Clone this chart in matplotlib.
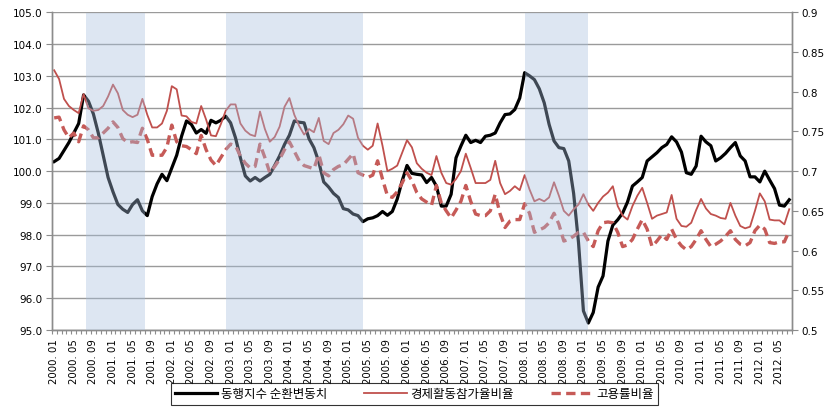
import matplotlib
matplotlib.use("Agg")
import matplotlib.pyplot as plt
import numpy as np
from matplotlib.lines import Line2D
from matplotlib.font_manager import FontProperties

plt.rcParams['font.family'] = ['DejaVu Sans', 'Noto Sans CJK KR']

# monthly categories 2000.01 - 2012.07
months = [f"{y}. {m:02d}" for y in range(2000, 2013) for m in range(1, 13)][:151]

# 동행지수 순환변동치 (left axis)
coincident = [
    100.3, 100.4, 100.65, 100.9, 101.2, 101.5, 102.4, 102.2, 101.8, 101.2,
    100.5, 99.8, 99.35, 98.95, 98.8, 98.7, 98.95, 99.1, 98.75, 98.6,
    99.2, 99.6, 99.9, 99.7, 100.1, 100.5, 101.1, 101.58, 101.47, 101.2,
    101.31, 101.19, 101.6, 101.52, 101.6, 101.73, 101.52, 101.05, 100.42, 99.85,
    99.69, 99.8, 99.69, 99.8, 99.9, 100.18, 100.48, 100.84, 101.13, 101.58,
    101.54, 101.52, 101.02, 100.74, 100.29, 99.66, 99.5, 99.3, 99.17, 98.82,
    98.78, 98.65, 98.6, 98.41, 98.5, 98.53, 98.6, 98.73, 98.61, 98.73,
    99.12, 99.69, 100.18, 99.93, 99.9, 99.88, 99.64, 99.8, 99.53, 98.9,
    98.9, 99.27, 100.42, 100.79, 101.13, 100.9, 100.97, 100.9, 101.1, 101.13,
    101.2, 101.52, 101.78, 101.8, 101.94, 102.3, 103.1, 103.0, 102.88, 102.59,
    102.15, 101.47, 100.95, 100.74, 100.71, 100.32, 99.3, 97.75, 95.6, 95.22,
    95.55, 96.35, 96.7, 97.8, 98.3, 98.47, 98.68, 99.03, 99.53, 99.66,
    99.8, 100.32, 100.45, 100.58, 100.74, 100.84, 101.08, 100.92, 100.6, 99.95,
    99.9, 100.16, 101.1, 100.92, 100.8, 100.32, 100.42, 100.56, 100.74, 100.9,
    100.48, 100.32, 99.82, 99.82, 99.66, 100.0, 99.72, 99.45, 98.93, 98.9,
    99.1,
]

# 경제활동참가율비율 (right axis)
participation = [
    0.827, 0.816, 0.791, 0.782, 0.777, 0.773, 0.797, 0.779, 0.776, 0.777,
    0.782, 0.794, 0.809, 0.798, 0.777, 0.771, 0.768, 0.771, 0.791, 0.771,
    0.755, 0.755, 0.76, 0.776, 0.807, 0.803, 0.77, 0.769, 0.762, 0.76,
    0.782, 0.765, 0.745, 0.744, 0.759, 0.776, 0.784, 0.784, 0.76, 0.751,
    0.746, 0.744, 0.775, 0.753, 0.737, 0.743, 0.756, 0.781, 0.792, 0.771,
    0.757, 0.746, 0.753, 0.749, 0.767, 0.738, 0.734, 0.748, 0.752, 0.759,
    0.77, 0.766, 0.742, 0.732, 0.727, 0.732, 0.76, 0.732, 0.7, 0.703,
    0.707, 0.723, 0.739, 0.73, 0.71, 0.703, 0.698, 0.695, 0.719, 0.698,
    0.685, 0.683, 0.69, 0.7, 0.722, 0.704, 0.685, 0.685, 0.685, 0.689,
    0.713, 0.685, 0.671, 0.675, 0.681, 0.676, 0.695, 0.677, 0.662, 0.665,
    0.662, 0.667, 0.686, 0.669, 0.65, 0.644, 0.652, 0.658, 0.671, 0.658,
    0.65, 0.66, 0.668, 0.673, 0.681, 0.656, 0.644, 0.639, 0.656, 0.669,
    0.679, 0.66, 0.64, 0.644, 0.646, 0.648, 0.67, 0.64, 0.631, 0.63,
    0.635, 0.651, 0.665, 0.653, 0.646, 0.644, 0.641, 0.64, 0.66, 0.644,
    0.631, 0.628, 0.63, 0.65, 0.672, 0.662, 0.639, 0.638, 0.638, 0.633,
    0.652,
]

# 고용률비율 (right axis)
employment = [
    0.767, 0.768, 0.752, 0.742, 0.748, 0.737, 0.757, 0.752, 0.742, 0.742,
    0.748, 0.754, 0.762, 0.755, 0.741, 0.736, 0.737, 0.736, 0.754, 0.74,
    0.72, 0.72, 0.72, 0.73, 0.758, 0.737, 0.732, 0.731, 0.727, 0.722,
    0.745, 0.727, 0.714, 0.707, 0.717, 0.727, 0.734, 0.732, 0.719, 0.71,
    0.704, 0.706, 0.734, 0.717, 0.698, 0.706, 0.715, 0.727, 0.737, 0.725,
    0.713, 0.707, 0.705, 0.703, 0.721, 0.698, 0.694, 0.702, 0.706, 0.708,
    0.715, 0.722, 0.698, 0.695, 0.692, 0.695, 0.713, 0.69, 0.669, 0.667,
    0.674, 0.685, 0.698, 0.688, 0.673, 0.665, 0.661, 0.657, 0.682, 0.66,
    0.65, 0.641, 0.651, 0.662, 0.682, 0.662, 0.646, 0.644, 0.644, 0.65,
    0.671, 0.646, 0.629, 0.637, 0.639, 0.639, 0.659, 0.647, 0.623, 0.626,
    0.629, 0.635, 0.647, 0.633, 0.612, 0.614, 0.618, 0.623, 0.623, 0.612,
    0.605, 0.625, 0.635, 0.636, 0.635, 0.623, 0.605, 0.607, 0.614, 0.627,
    0.639, 0.627, 0.605, 0.612, 0.62, 0.614, 0.627, 0.614, 0.606, 0.601,
    0.605, 0.614, 0.625, 0.614, 0.605, 0.608, 0.612, 0.618, 0.625, 0.614,
    0.608, 0.606, 0.61, 0.625, 0.632, 0.627, 0.61, 0.609, 0.611, 0.611,
    0.625,
]

# contraction periods (peak -> trough)
bands = [("2000. 08", "2001. 07"), ("2002. 12", "2005. 04"), ("2008. 01", "2009. 02")]

labels = ["동행지수 순환변동치", "경제활동참가율비율", "고용률비율"]

RED = "#C0504D"
RED_DASH = "#C65A57"
GRID = "#9a9a9a"
SPINE = "#8c8c8c"

fig = plt.figure(figsize=(8.29, 4.14), dpi=100)
ax = fig.add_axes([0.0624, 0.2005, 0.8926, 0.7674])
ax2 = ax.twinx()

x = np.arange(len(months))
ax.plot(x, coincident, color="black", lw=2.3, zorder=3, solid_joinstyle="round")
ax2.plot(x, participation, color=RED, lw=1.3, zorder=2)
ax2.plot(x, employment, color=RED_DASH, lw=2.4, dashes=(2.8, 1.6), zorder=2)

# shaded bands overlaid (semi transparent)
for k, (s, e) in enumerate(bands):
    i0, i1 = months.index(s), months.index(e)
    if k == 0:
        a, b = i0 - 0.5, i1 + 0.5
    else:
        a, b = i0, i1
    ax2.axvspan(a, b, ymin=0.0, ymax=0.997, facecolor=(0.655, 0.75, 0.87), alpha=0.38,
                lw=0, zorder=5)

ax.set_xlim(-0.5, len(months) - 0.5)
ax.set_ylim(95, 105)
ax2.set_ylim(0.5, 0.9)

ax.set_yticks(np.arange(95, 105.01, 1.0))
ax.set_yticklabels([f"{v:.1f}" for v in np.arange(95, 105.01, 1.0)])
r_ticks = np.round(np.arange(0.5, 0.901, 0.05), 2)
ax2.set_yticks(r_ticks)
ax2.set_yticklabels([f"{v:g}" for v in r_ticks])

ax.set_xticks(x[::4])
ax.set_xticklabels(months[::4], rotation=90, fontsize=7.3)
ax.set_xticks(np.arange(-0.5, len(months), 1.0), minor=True)
ax.tick_params(axis="x", which="major", length=0, pad=6)
ax.tick_params(axis="x", which="minor", length=3, color=SPINE, width=0.8, direction="out")
ax.tick_params(axis="y", length=4, color=SPINE, labelsize=7.5, pad=3)
ax2.tick_params(axis="y", length=4, color=SPINE, labelsize=7.5, pad=3)

ax.grid(axis="y", color=GRID, lw=1.0, zorder=0)
ax.set_axisbelow(True)
for a_ in (ax, ax2):
    a_.spines["top"].set_visible(False)
    for sp in ("left", "right", "bottom"):
        a_.spines[sp].set_color(SPINE)
        a_.spines[sp].set_linewidth(1.0)

handles = [
    Line2D([0], [0], color="black", lw=2.3),
    Line2D([0], [0], color=RED, lw=1.3),
    Line2D([0], [0], color=RED_DASH, lw=2.4, dashes=(2.8, 1.6)),
]
leg = fig.legend(handles, labels, loc="lower center", bbox_to_anchor=(0.5, 0.005), ncol=3,
                 frameon=True, fancybox=False, edgecolor="black", handlelength=3.4,
                 columnspacing=3.0, handletextpad=0.25, borderpad=0.35,
                 prop=FontProperties(family=["Noto Sans CJK KR", "DejaVu Sans"], size=9))
leg.get_frame().set_linewidth(0.8)

fig.savefig("out.png", dpi=100)
